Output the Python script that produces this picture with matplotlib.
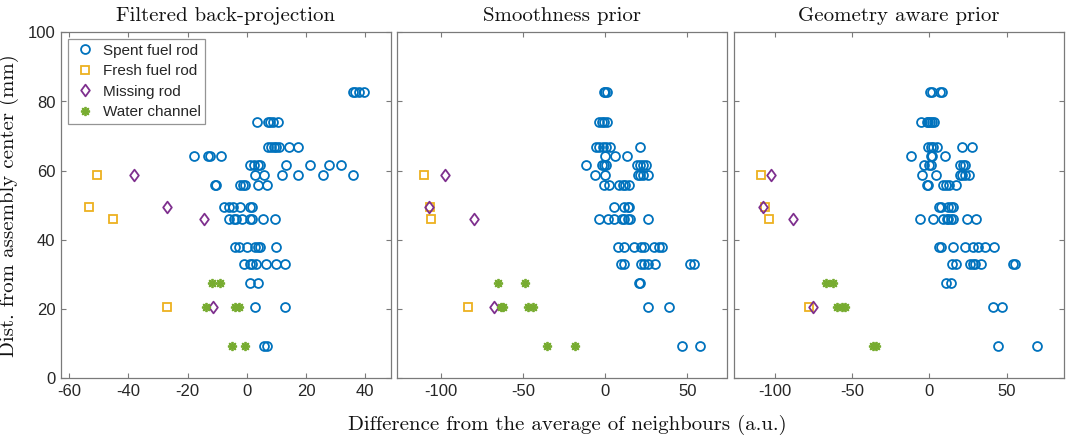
import matplotlib
matplotlib.use("Agg")
import matplotlib.pyplot as plt
from matplotlib.path import Path
import numpy as np

# ---------------- data ----------------
titles = ["Filtered back-projection", "Smoothness prior", "Geometry aware prior"]
categories = ["Spent fuel rod", "Fresh fuel rod", "Missing rod", "Water channel"]

# Panel 1: Filtered back-projection
fbp_spent_x = [35.8, 36.6, 38.0, 39.4,
               3.5, 7.0, 7.9, 8.8, 10.4,
               7.2, 8.1, 9.0, 9.9, 10.7, 14.2, 17.1,
               -17.8, -13.0, -12.4, -8.9,
               0.9, 2.3, 3.6, 4.5, 13.3, 21.4, 27.6, 31.9,
               2.8, 5.9, 11.8, 17.1, 25.6, 35.7,
               -10.7, -10.4, -2.3, -1.4, -0.6, 3.6, 6.8,
               -7.7, -6.2, -4.7, -2.3, 0.9, 1.7,
               -5.9, -4.5, -3.6, -1.7, 0.9, 1.7, 5.6, 9.6,
               -3.9, -2.8, 0.0, 2.8, 3.6, 4.5, 9.9,
               -0.9, 0.9, 1.7, 3.2, 6.5, 9.9, 12.7,
               1.1, 3.6,
               2.8, 12.7,
               5.9, 6.8]
fbp_spent_y = [82.7] * 4 + [74.1] * 5 + [66.8] * 7 + [64.2] * 4 + [61.6] * 8 + \
              [58.9] * 6 + [55.9] * 7 + [49.5] * 6 + [46.0] * 8 + [37.9] * 7 + \
              [33.1] * 7 + [27.4] * 2 + [20.7] * 2 + [9.3] * 2
fbp_fresh_x = [-50.7, -53.5, -45.3, -27.0]
fbp_fresh_y = [58.9, 49.5, 46.0, 20.7]
fbp_missing_x = [-38.3, -27.0, -14.6, -11.6]
fbp_missing_y = [58.9, 49.5, 46.0, 20.7]
fbp_water_x = [-11.8, -9.0, -13.9, -3.9, -2.8, -5.1, -0.5]
fbp_water_y = [27.4, 27.4, 20.7, 20.7, 20.7, 9.3, 9.3]

# Panel 2: Smoothness prior
sm_spent_x = [-0.8, 0.2, 1.2,
              -4.0, -2.0, -0.4, 1.0,
              -5.5, -4.0, -1.4, 0.6, 3.2, 21.2,
              0.0, 6.3, 13.3,
              -11.5, -2.0, -0.4, 0.8, 19.2, 21.2, 22.9, 24.9,
              -6.3, 0.0, 19.8, 21.4, 22.9, 25.9,
              -0.4, 2.6, 8.7, 10.7, 12.3, 14.8,
              5.7, 11.7, 13.8, 14.8,
              -4.0, 1.6, 5.7, 10.3, 11.7, 13.8, 15.4, 25.9,
              7.7, 11.3, 17.4, 21.8, 23.5, 29.5, 33.0, 34.6,
              9.7, 11.7, 21.8, 23.5, 25.9, 30.5, 51.8, 53.8,
              20.4, 21.0,
              26.3, 39.0,
              46.7, 57.4]
sm_spent_y = [82.7] * 3 + [74.1] * 4 + [66.8] * 6 + [64.2] * 3 + [61.6] * 8 + \
             [58.9] * 6 + [55.9] * 6 + [49.5] * 4 + [46.0] * 8 + [37.9] * 8 + \
             [33.1] * 8 + [27.4] * 2 + [20.7] * 2 + [9.3] * 2
sm_fresh_x = [-109.8, -106.7, -106.1, -83.3]
sm_fresh_y = [58.9, 49.5, 46.0, 20.7]
sm_missing_x = [-97.4, -107.2, -79.7, -67.5]
sm_missing_y = [58.9, 49.5, 46.0, 20.7]
sm_water_x = [-65.1, -48.5, -63.1, -61.9, -46.9, -43.9, -35.6, -18.0]
sm_water_y = [27.4, 27.4, 20.7, 20.7, 20.7, 20.7, 9.3, 9.3]

# Panel 3: Geometry aware prior
ga_spent_x = [0.4, 1.5, 6.9, 8.0,
              -5.4, -1.7, -0.6, 0.4, 1.5, 3.0,
              -0.6, 1.1, 2.6, 4.7, 21.4, 27.4,
              -11.9, 1.1, 1.5, 10.1,
              -3.2, 0.0, 1.1, 19.9, 21.6, 23.1,
              -5.0, 4.3, 19.9, 21.4, 23.1, 25.9,
              -1.7, -0.6, 9.1, 10.8, 13.0, 17.1,
              6.3, 7.3, 12.3, 14.0, 15.5,
              -6.0, 2.2, 9.1, 11.2, 12.3, 14.0, 15.5, 24.6, 30.2,
              6.3, 7.3, 15.5, 23.1, 28.5, 31.7, 36.0, 41.9,
              14.5, 17.3, 26.3, 28.1, 29.6, 33.2, 54.0, 55.5,
              10.8, 13.8,
              41.0, 46.8,
              44.2, 69.5]
ga_spent_y = [82.7] * 4 + [74.1] * 6 + [66.8] * 6 + [64.2] * 4 + [61.6] * 6 + \
             [58.9] * 6 + [55.9] * 6 + [49.5] * 5 + [46.0] * 9 + [37.9] * 8 + \
             [33.1] * 8 + [27.4] * 2 + [20.7] * 2 + [9.3] * 2
ga_fresh_x = [-109.2, -106.4, -103.8, -77.9]
ga_fresh_y = [58.9, 49.5, 46.0, 20.7]
ga_missing_x = [-102.3, -107.5, -88.1, -75.5]
ga_missing_y = [58.9, 49.5, 46.0, 20.7]
ga_water_x = [-67.1, -62.6, -59.6, -56.3, -54.6, -36.7, -34.8]
ga_water_y = [27.4, 27.4, 20.7, 20.7, 20.7, 9.3, 9.3]

panels = [
    [(fbp_spent_x, fbp_spent_y), (fbp_fresh_x, fbp_fresh_y),
     (fbp_missing_x, fbp_missing_y), (fbp_water_x, fbp_water_y)],
    [(sm_spent_x, sm_spent_y), (sm_fresh_x, sm_fresh_y),
     (sm_missing_x, sm_missing_y), (sm_water_x, sm_water_y)],
    [(ga_spent_x, ga_spent_y), (ga_fresh_x, ga_fresh_y),
     (ga_missing_x, ga_missing_y), (ga_water_x, ga_water_y)],
]
xlims = [(-62.8, 48.5), (-126.5, 73.8), (-126.5, 86.8)]
xticks = [[-60, -40, -20, 0, 20, 40], [-100, -50, 0, 50], [-100, -50, 0, 50]]
yticks = [0, 20, 40, 60, 80, 100]

# ---------------- style ----------------
diamond = Path([(0, 1), (0.74, 0), (0, -1), (-0.74, 0), (0, 1)],
               [Path.MOVETO, Path.LINETO, Path.LINETO, Path.LINETO, Path.CLOSEPOLY])
colors = ["#0072BD", "#EDB120", "#7E2F8E", "#77AC30"]
markers = ["o", "s", diamond, (8, 2, 0)]
msizes = [6.4, 6.4, 8.4, 6.6]

plt.rcParams["font.family"] = ["Liberation Sans", "DejaVu Sans"]
serif = "cmr10"
edge_col = "#7a7a7a"
text_col = "#262626"

fig = plt.figure(figsize=(10.69, 4.40), dpi=100)
lefts = [61 / 1069, 397 / 1069, 734 / 1069]
width = 329.5 / 1069
bottom = 1 - 378.3 / 440
height = 346 / 440

axes = []
for i in range(3):
    ax = fig.add_axes([lefts[i], bottom, width, height])
    axes.append(ax)
    for k, (xs, ys) in enumerate(panels[i]):
        kw = dict(linestyle="none", marker=markers[k], markersize=msizes[k],
                  color=colors[k], label=categories[k])
        if k < 3:
            kw.update(markerfacecolor="none", markeredgewidth=1.3)
        else:
            kw.update(markeredgewidth=1.3)
        ax.plot(xs, ys, **kw)
    ax.set_xlim(*xlims[i])
    ax.set_ylim(0, 100)
    ax.set_xticks(xticks[i])
    ax.set_xticklabels([str(t) for t in xticks[i]])
    ax.set_yticks(yticks)
    if i == 0:
        ax.set_yticklabels([str(t) for t in yticks])
    else:
        ax.set_yticklabels([])
    ax.tick_params(direction="in", length=3.5, width=0.8, colors=edge_col,
                   labelcolor=text_col, labelsize=12, top=True, right=True, pad=4)
    for sp in ax.spines.values():
        sp.set_color(edge_col)
        sp.set_linewidth(0.9)
    ax.set_title(titles[i], fontfamily=serif, fontsize=15, color="#111111", pad=8)

axes[0].set_ylabel("Dist. from assembly center (mm)", fontfamily=serif,
                   fontsize=15, color="#111111", labelpad=6)
fig.text(0.531, 0.022, "Difference from the average of neighbours (a.u.)",
         fontfamily=serif, fontsize=15, color="#111111", ha="center", va="baseline")

leg = axes[0].legend(loc="upper left", fontsize=11, frameon=True, fancybox=False,
                     borderaxespad=0.45, handletextpad=0.4, handlelength=1.6,
                     labelspacing=0.42, borderpad=0.3)
leg.get_frame().set_edgecolor(edge_col)
leg.get_frame().set_linewidth(0.9)
for t in leg.get_texts():
    t.set_color(text_col)

fig.savefig("out.png", dpi=100)
